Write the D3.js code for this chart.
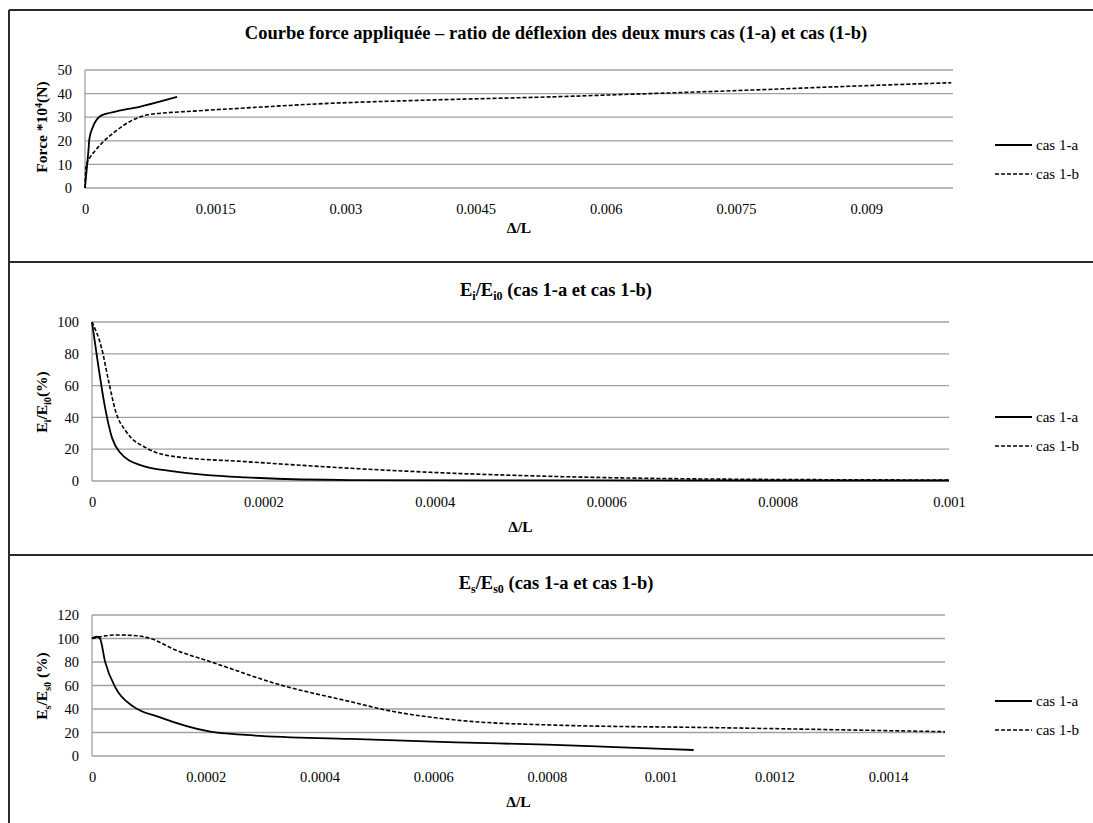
<!DOCTYPE html>
<html><head><meta charset="utf-8">
<script src="https://cdn.jsdelivr.net/npm/d3@7"></script>
<style>
body{margin:0;background:#fff}
svg{display:block}
text{font-family:"Liberation Serif","Times New Roman","DejaVu Serif",serif;fill:#000}
</style>
</head><body>
<svg id="chart" width="1093" height="823"></svg>
<script>
// ---------- DATA ----------
const legendLabels = ["cas 1-a", "cas 1-b"];

// Panel 1 : Force vs Δ/L
const forceXTicks = [0, 0.0015, 0.003, 0.0045, 0.006, 0.0075, 0.009];
const forceYTicks = [0, 10, 20, 30, 40, 50];
const forceCas1a = [[0,0],[0.000012,5],[0.000023,9],[0.00004,16],[0.000051,21],[0.000092,26],[0.00017,30.3],[0.00025,31.5],[0.00035,32.4],[0.0005,33.5],[0.00064,34.5],[0.00085,36.5],[0.00106,38.6]];
const forceCas1b = [[0,0],[0.000012,9.2],[0.00005,12.5],[0.00011,15.5],[0.00023,20.3],[0.00035,24],[0.00055,28.8],[0.00072,31],[0.00095,31.9],[0.00116,32.4],[0.0018,33.8],[0.00266,35.6],[0.004,37.3],[0.00536,38.6],[0.0065,40],[0.00768,41.5],[0.0088,43.1],[0.00998,44.6]];

// Panel 2 : Ei/Ei0 vs Δ/L
const eiXTicks = [0, 0.0002, 0.0004, 0.0006, 0.0008, 0.001];
const eiYTicks = [0, 20, 40, 60, 80, 100];
const eiCas1a = [[0,100],[0.0000072,73],[0.0000154,45.7],[0.0000236,26.8],[0.0000319,18.4],[0.0000564,10],[0.0000973,5.9],[0.000179,2.3],[0.000302,0.6],[0.0006,0.35],[0.001,0.3]];
const eiCas1b = [[0,100],[0.0000113,83.4],[0.0000195,62.5],[0.0000277,43.6],[0.00004,31],[0.0000645,20.5],[0.0000973,15.3],[0.000179,12.2],[0.000302,8],[0.000425,4.8],[0.00053,3],[0.00071,1.3],[0.001,0.6]];

// Panel 3 : Es/Es0 vs Δ/L
const esXTicks = [0, 0.0002, 0.0004, 0.0006, 0.0008, 0.001, 0.0012, 0.0014];
const esYTicks = [0, 20, 40, 60, 80, 100, 120];
const esCas1a = [[0,100],[0.0000079,101.5],[0.000014,100],[0.000023,80.3],[0.000042,57.6],[0.000073,42],[0.000116,33.5],[0.000208,20.7],[0.00027,17.9],[0.000455,14.5],[0.00064,11.6],[0.0008,9.6],[0.00092,7.6],[0.001058,5.1]];
const esCas1b = [[0,100],[0.000042,103],[0.000079,102.4],[0.000103,100],[0.000147,90.2],[0.000208,80.3],[0.000332,60.4],[0.000455,46.2],[0.000517,39.1],[0.00064,30.6],[0.000806,26.4],[0.0011,24.1],[0.0015,20.7]];

// ---------- DRAWING ----------
const FONT = "Liberation Serif, Times New Roman, serif";
const svg = d3.select("#chart");

// frame lines
const frame = svg.append("g").attr("stroke", "#2b2b2b").attr("stroke-width", 2).attr("fill", "none");
frame.append("line").attr("x1", 9).attr("x2", 1100).attr("y1", 10).attr("y2", 10);
frame.append("line").attr("x1", 9).attr("x2", 9).attr("y1", 10).attr("y2", 830);
frame.append("line").attr("x1", 9).attr("x2", 1100).attr("y1", 262).attr("y2", 262);
frame.append("line").attr("x1", 9).attr("x2", 1100).attr("y1", 555).attr("y2", 555);

function richText(sel, segs) {
  let shift = 0;
  segs.forEach(([t, kind]) => {
    const target = kind === "sub" ? 4 : kind === "sup" ? -5 : 0;
    const ts = sel.append("tspan").text(t).attr("dy", target - shift);
    if (kind) ts.attr("font-size", "65%");
    shift = target;
  });
  if (shift !== 0) sel.append("tspan").text("\u200b").attr("dy", -shift);
}

function drawPanel(cfg) {
  const g = svg.append("g");
  const x = d3.scaleLinear().domain([0, cfg.xMax]).range([cfg.left, cfg.right]);
  const y = d3.scaleLinear().domain([0, cfg.yMax]).range([cfg.bottom, cfg.top]);

  // grid
  g.append("g").selectAll("line").data(cfg.yTicks).join("line")
    .attr("x1", cfg.left).attr("x2", cfg.right)
    .attr("y1", d => y(d)).attr("y2", d => y(d))
    .attr("stroke", "#a0a0a0").attr("stroke-width", 1.3);
  g.append("line").attr("x1", cfg.left).attr("x2", cfg.left)
    .attr("y1", cfg.top).attr("y2", cfg.bottom)
    .attr("stroke", "#a0a0a0").attr("stroke-width", 1.3);

  // axes
  const xa = g.append("g").attr("transform", `translate(0,${cfg.bottom})`)
    .call(d3.axisBottom(x).tickValues(cfg.xTicks).tickSize(0).tickPadding(16).tickFormat(d => String(d)));
  const ya = g.append("g").attr("transform", `translate(${cfg.left},0)`)
    .call(d3.axisLeft(y).tickValues(cfg.yTicks).tickSize(0).tickPadding(13));
  [xa, ya].forEach(a => {
    a.attr("font-family", FONT);
    a.select(".domain").remove();
    a.selectAll("text").attr("font-family", FONT).attr("font-size", 14.5).attr("fill", "#000");
  });

  // lines
  const line = d3.line().x(d => x(d[0])).y(d => y(d[1])).curve(d3.curveMonotoneX);
  g.append("path").datum(cfg.a).attr("d", line)
    .attr("fill", "none").attr("stroke", "#000").attr("stroke-width", 1.8);
  g.append("path").datum(cfg.b).attr("d", line)
    .attr("fill", "none").attr("stroke", "#000").attr("stroke-width", 1.6).attr("stroke-dasharray", "4,2");

  // title
  const t = g.append("text").attr("x", 556).attr("y", cfg.titleY).attr("font-family", FONT)
    .attr("text-anchor", "middle").attr("font-weight", "bold").attr("font-size", 18.5);
  richText(t, cfg.title);

  // y label
  const yl = g.append("text").attr("font-family", FONT)
    .attr("transform", `translate(${cfg.yLabelX},${cfg.yLabelY}) rotate(-90)`)
    .attr("text-anchor", "middle").attr("font-weight", "bold").attr("font-size", 15.5);
  richText(yl, cfg.yLabel);

  // x label
  g.append("text").attr("x", (cfg.left + cfg.right) / 2).attr("y", cfg.xLabelY).attr("font-family", FONT)
    .attr("text-anchor", "middle").attr("font-weight", "bold").attr("font-size", 15.5).text("Δ/L");

  // legend
  legendLabels.forEach((lab, i) => {
    const ly = cfg.legendY + i * 29;
    const ln = g.append("line").attr("x1", 995).attr("x2", 1032).attr("y1", ly).attr("y2", ly)
      .attr("stroke", "#000").attr("stroke-width", i === 0 ? 1.8 : 1.6);
    if (i === 1) ln.attr("stroke-dasharray", "4,2");
    g.append("text").attr("x", 1036).attr("y", ly + 5).attr("font-family", FONT).attr("font-size", 15).text(lab);
  });
}

drawPanel({
  left: 85, right: 953, top: 70, bottom: 188, xMax: 0.01, yMax: 50,
  xTicks: forceXTicks, yTicks: forceYTicks, a: forceCas1a, b: forceCas1b,
  titleY: 39, title: [["Courbe force appliquée – ratio de déflexion des deux murs cas (1-a) et cas (1-b)", ""]],
  yLabelX: 47, yLabelY: 127, yLabel: [["Force *10", ""], ["4", "sup"], ["(N)", ""]],
  xLabelY: 233, legendY: 145
});
drawPanel({
  left: 92, right: 949, top: 322, bottom: 481, xMax: 0.001, yMax: 100,
  xTicks: eiXTicks, yTicks: eiYTicks, a: eiCas1a, b: eiCas1b,
  titleY: 296, title: [["E", ""], ["i", "sub"], ["/E", ""], ["i0", "sub"], [" (cas 1-a et cas 1-b)", ""]],
  yLabelX: 47, yLabelY: 402, yLabel: [["E", ""], ["i", "sub"], ["/E", ""], ["i0", "sub"], ["(%)", ""]],
  xLabelY: 532, legendY: 417
});
drawPanel({
  left: 92, right: 945, top: 615, bottom: 756, xMax: 0.0015, yMax: 120,
  xTicks: esXTicks, yTicks: esYTicks, a: esCas1a, b: esCas1b,
  titleY: 589, title: [["E", ""], ["s", "sub"], ["/E", ""], ["s0", "sub"], [" (cas 1-a et cas 1-b)", ""]],
  yLabelX: 47, yLabelY: 686, yLabel: [["E", ""], ["s", "sub"], ["/E", ""], ["s0", "sub"], [" (%)", ""]],
  xLabelY: 807, legendY: 701
});
</script>
</body></html>
